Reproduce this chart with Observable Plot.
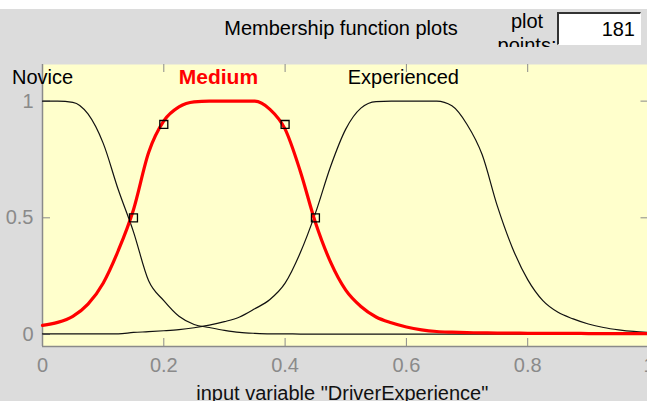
<!DOCTYPE html>
<html><head><meta charset="utf-8">
<script src="https://cdn.jsdelivr.net/npm/d3@7"></script>
<script src="https://cdn.jsdelivr.net/npm/@observablehq/plot@0.6"></script>
<style>
html,body{margin:0;padding:0;background:#dcdcdc;overflow:hidden;width:647px;height:401px;}
#wrap{position:relative;width:647px;height:401px;overflow:hidden;font-family:"Liberation Sans",Arial,sans-serif;color:#000;}
#head{position:absolute;left:0;top:0;width:647px;height:64px;background:#dcdcdc;}
#whitebar{position:absolute;left:0;top:0;width:647px;height:9px;background:#fff;}
#title{position:absolute;left:191px;top:18px;width:300px;text-align:center;font-size:20px;line-height:20px;white-space:nowrap;}
#pp{position:absolute;left:492px;top:9px;width:70px;height:38px;overflow:hidden;text-align:center;font-size:20px;line-height:24px;}
#box{position:absolute;left:557px;top:12px;width:81px;height:30px;background:#fff;border-top:2px solid #333;border-left:2px solid #333;border-right:1px solid #fff;border-bottom:1px solid #fff;text-align:right;font-size:20px;line-height:30px;box-sizing:content-box;}
#box span{padding-right:5px;}
#chart{position:absolute;left:0;top:64px;width:647px;height:337px;overflow:hidden;}
</style>
</head><body>
<div id="wrap">
  <div id="head">
    <div id="whitebar"></div>
    <div id="title">Membership function plots</div>
    <div id="pp">plot<br>points:</div>
    <div id="box"><span>181</span></div>
  </div>
  <div id="chart"></div>
</div>
<script>
// sample positions along the input variable
const xs = [0,0.025,0.05,0.075,0.1,0.125,0.15,0.175,0.2,0.225,0.25,0.275,0.3,0.325,0.35,0.375,0.4,0.425,0.45,0.475,0.5,0.525,0.55,0.575,0.6,0.625,0.65,0.675,0.7,0.725,0.75,0.775,0.8,0.825,0.85,0.875,0.9,0.925,0.95,0.975,1];
// membership degrees
const novice = [1,1,0.995,0.945,0.82,0.62,0.44,0.23,0.145,0.078,0.043,0.03,0.018,0.009,0.005,0.003,0.003,0.002,0.002,0.002,0.002,0.002,0.002,0.002,0.002,0.002,0.002,0.002,0.002,0.002,0.002,0.002,0.002,0.002,0.002,0.002,0.002,0.002,0.002,0.002,0.002];
const medium = [0.039,0.052,0.078,0.13,0.22,0.36,0.535,0.78,0.915,0.975,0.997,1,1,1,1,0.965,0.88,0.70,0.48,0.31,0.19,0.12,0.075,0.05,0.032,0.02,0.013,0.01,0.008,0.007,0.006,0.006,0.005,0.005,0.005,0.005,0.004,0.004,0.004,0.004,0.004];
const experienced = [0.003,0.003,0.003,0.003,0.003,0.003,0.009,0.012,0.016,0.021,0.029,0.04,0.055,0.075,0.11,0.15,0.22,0.35,0.52,0.72,0.88,0.97,0.998,1,1,1,1,0.98,0.9,0.77,0.55,0.37,0.235,0.145,0.095,0.067,0.045,0.03,0.02,0.013,0.009];
// selected MF parameter handles
const markX = [0.15, 0.2, 0.4, 0.45];
const markY = [0.5, 0.9, 0.9, 0.5];
// MF names and where their labels sit
const mfNames = ["Novice", "Medium", "Experienced"];
const labelX = [0, 0.29, 0.595];
// axis ticks
const xTicks = [0, 0.2, 0.4, 0.6, 0.8, 1];
const yTicks = [0, 0.5, 1];
const xLabel = 'input variable "DriverExperience"';

const W = 647, H = 337, MT = 0, MB = 55, ML = 42, MR = -1.5;
const frameW = W - ML - MR, frameH = H - MT - MB;
const yDomain = [-0.0514, 1.157];

const rows = xs.map((x, i) => ({x, novice: novice[i], medium: medium[i], experienced: experienced[i]}));
const marks = markX.map((x, i) => ({x, y: markY[i]}));
const labels = mfNames.map((n, i) => ({name: n, x: labelX[i]}));
const grey = "#8a8a8a";
const innerX = xTicks.slice(1, -1);

const chart = Plot.plot({
  width: W, height: H,
  marginTop: MT, marginBottom: MB, marginLeft: ML, marginRight: MR,
  style: {background: "#dcdcdc", fontFamily: "'Liberation Sans', Arial, sans-serif", fontSize: "20px"},
  x: {domain: [0, 1]},
  y: {domain: yDomain},
  marks: [
    Plot.frame({fill: "#ffffcc", stroke: "none"}),
    Plot.ruleX([0], {stroke: grey, strokeWidth: 1.5}),
    Plot.ruleY([yDomain[0]], {stroke: grey, strokeWidth: 1.5}),
    Plot.ruleX(innerX, {stroke: grey, insetTop: frameH - 8}),
    Plot.ruleX(innerX, {stroke: grey, insetBottom: frameH - 8}),
    Plot.ruleY(yTicks, {stroke: grey, insetRight: frameW - 8}),
    Plot.ruleY(yTicks, {stroke: grey, insetLeft: frameW - 8}),
    Plot.axisX(xTicks, {tickSize: 0, tickPadding: 11, fill: grey, fontSize: 20, tickFormat: d => `${d}`, label: null}),
    Plot.axisY(yTicks, {tickSize: 0, tickPadding: 9, fill: grey, fontSize: 20, tickFormat: d => `${d}`, label: null}),
    Plot.line(rows, {x: "x", y: "novice", stroke: "#111", strokeWidth: 1.2, curve: "monotone-x"}),
    Plot.line(rows, {x: "x", y: "experienced", stroke: "#111", strokeWidth: 1.2, curve: "monotone-x"}),
    Plot.line(rows, {x: "x", y: "medium", stroke: "#ff0000", strokeWidth: 3.2, curve: "monotone-x"}),
    Plot.dot(marks, {x: "x", y: "y", symbol: "square", r: 4.5, stroke: "#000", fill: "none", strokeWidth: 1.3}),
    Plot.text(labels.filter(d => d.name !== "Medium"), {x: "x", text: "name", frameAnchor: "top", lineAnchor: "middle", dy: 12.6, fontSize: 20, fill: "#000"}),
    Plot.text(labels.filter(d => d.name === "Medium"), {x: "x", text: "name", frameAnchor: "top", lineAnchor: "middle", dy: 12.6, fontSize: 21, fontWeight: "bold", fill: "#ff0000"}),
    Plot.text([xLabel], {frameAnchor: "bottom", lineAnchor: "middle", dx: -3.5, dy: 47, fontSize: 20, fill: "#111"})
  ]
});
document.getElementById("chart").appendChild(chart);
</script>
</body></html>
